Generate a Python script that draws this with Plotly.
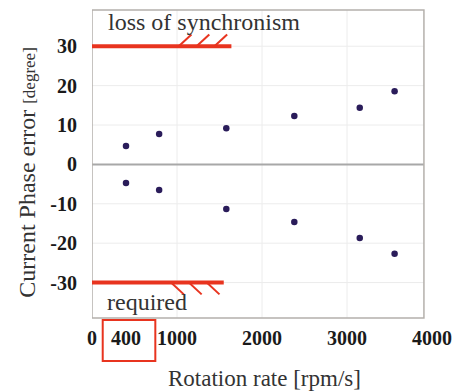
import plotly.graph_objects as go

# Measured phase error versus rotation rate
rotation_rate = [400, 790, 1580, 2380, 3150, 3560]
phase_error_pos = [4.7, 7.7, 9.2, 12.3, 14.4, 18.6]
phase_error_neg = [-4.7, -6.5, -11.3, -14.6, -18.7, -22.7]

# Axis ticks
x_ticks = [0, 400, 1000, 2000, 3000, 4000]
x_tick_text = ["0", "400", "1000", "2000", "3000", "4000"]
y_ticks = [-30, -20, -10, 0, 10, 20, 30]
y_tick_text = ["-30", "-20", "-10", "0", "10", "20", "30"]
x_grid = [1000, 2000, 3000]
y_grid = [-30, -20, -10, 10, 20, 30]

# Limits: loss of synchronism above, requirement below
limit_upper = 30
limit_lower = -30
limit_upper_end = 1640
limit_lower_end = 1550

X_RANGE = [0, 4000]
Y_RANGE = [-39, 39.2]
FRAME_RIGHT = 3905

SERIF = "Liberation Serif"
RED = "#e8341f"
DOT = "#2a1c5a"

fig = go.Figure()
for ys in (phase_error_pos, phase_error_neg):
    fig.add_trace(go.Scatter(
        x=rotation_rate, y=ys, mode="markers",
        marker=dict(size=6.5, color=DOT), showlegend=False, hoverinfo="skip",
    ))

shapes = []
# light grid
for gx in x_grid:
    shapes.append(dict(type="line", xref="x", yref="paper", x0=gx, x1=gx, y0=0, y1=1,
                       line=dict(color="#ececec", width=1), layer="below"))
for gy in y_grid:
    shapes.append(dict(type="line", xref="x", yref="y", x0=0, x1=FRAME_RIGHT, y0=gy, y1=gy,
                       line=dict(color="#ececec", width=1), layer="below"))
# zero line
shapes.append(dict(type="line", xref="x", yref="y", x0=0, x1=FRAME_RIGHT, y0=0, y1=0,
                   line=dict(color="#a8a8a8", width=2), layer="below"))
# frame
shapes.append(dict(type="rect", xref="x", yref="paper", x0=0, x1=FRAME_RIGHT, y0=0, y1=1,
                   line=dict(color="#b4b0ac", width=1.5), layer="above"))

# limit lines with hatch marks
hatch_dx = 150
hatch_dy = 3.0
for limit, end, sign in ((limit_upper, limit_upper_end, 1), (limit_lower, limit_lower_end, -1)):
    shapes.append(dict(type="line", xref="x", yref="y", x0=0, x1=end, y0=limit, y1=limit,
                       line=dict(color=RED, width=4)))
    for k in range(3):
        xs = end - 620 + k * 210
        shapes.append(dict(type="line", xref="x", yref="y",
                           x0=xs, x1=xs + hatch_dx, y0=limit, y1=limit + sign * hatch_dy,
                           line=dict(color=RED, width=2)))

# box around the 400 tick label
shapes.append(dict(type="rect", xref="paper", yref="paper",
                   x0=(103 - 92) / 349, x1=(157 - 92) / 349,
                   y0=(318 - 361) / 308, y1=(318 - 320) / 308,
                   line=dict(color=RED, width=2)))

annotations = [
    dict(text="loss of synchronism", xref="paper", yref="paper",
         x=(106 - 92) / 349, y=(318 - 22) / 308, xanchor="left", yanchor="middle",
         showarrow=False, font=dict(family=SERIF, size=24, color="#333333")),
    dict(text="required", xref="paper", yref="paper",
         x=(105 - 92) / 349, y=(318 - 302) / 308, xanchor="left", yanchor="middle",
         showarrow=False, font=dict(family=SERIF, size=24, color="#333333")),
    dict(text="Rotation rate [rpm/s]", xref="paper", yref="paper",
         x=(269 - 92) / 349, y=(318 - 378) / 308, xanchor="center", yanchor="middle",
         showarrow=False, font=dict(family=SERIF, size=23, color="#333333")),
    dict(text="Current Phase error <span style='font-size:17px'>[degree]</span>",
         xref="paper", yref="paper", textangle=-90,
         x=(25 - 92) / 349, y=(318 - 172) / 308, xanchor="center", yanchor="middle",
         showarrow=False, font=dict(family=SERIF, size=24, color="#333333")),
]

fig.update_layout(
    width=462, height=392,
    margin=dict(l=92, r=21, t=10, b=74),
    paper_bgcolor="white", plot_bgcolor="white",
    font=dict(family=SERIF),
    shapes=shapes, annotations=annotations,
    xaxis=dict(range=X_RANGE, tickvals=x_ticks, ticktext=x_tick_text,
               showgrid=False, zeroline=False, showline=False, ticks="",
               ticklabelstandoff=6,
               tickfont=dict(family=SERIF, size=20, color="#1a1a1a", weight="bold")),
    yaxis=dict(range=Y_RANGE, tickvals=y_ticks, ticktext=y_tick_text,
               showgrid=False, zeroline=False, showline=False, ticks="",
               ticklabelstandoff=14,
               tickfont=dict(family=SERIF, size=20, color="#1a1a1a", weight="bold")),
)

fig.write_html("out.html")
